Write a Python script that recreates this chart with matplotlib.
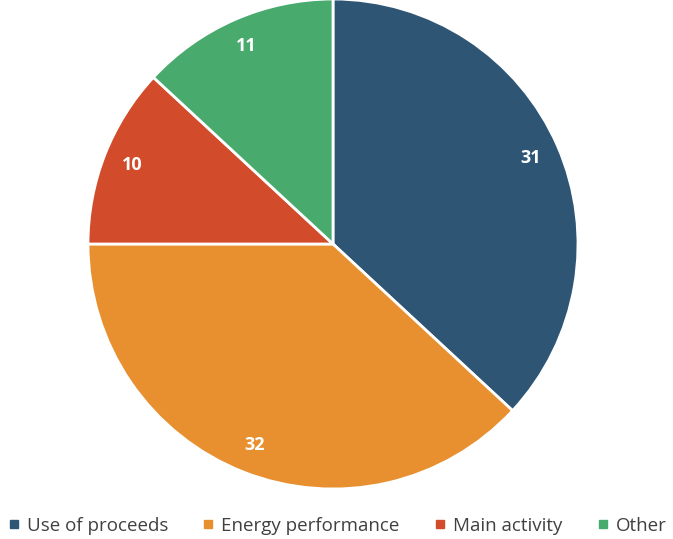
import matplotlib.pyplot as plt
from matplotlib.lines import Line2D

plt.rcParams['font.family'] = ['Open Sans', 'DejaVu Sans']

labels = ['Use of proceeds', 'Energy performance', 'Main activity', 'Other']
values = [31, 32, 10, 11]
colors = ['#2E5573', '#E88F2F', '#D24B2A', '#49AA6E']

fig = plt.figure(figsize=(6.73, 5.39), dpi=100)
ax = fig.add_axes([(333 - 245) / 673, (539 - 489) / 539, 490 / 673, 490 / 539])

wedges, texts, autotexts = ax.pie(
    values, colors=colors, startangle=90, counterclock=False,
    autopct=lambda p: '%d' % round(p * sum(values) / 100.0),
    pctdistance=0.88, radius=1,
    wedgeprops=dict(edgecolor='white', linewidth=2))
for t in autotexts:
    t.set_color('white')
    t.set_fontweight('bold')
    t.set_fontsize(13)
ax.set_xlim(-1.0, 1.0)
ax.set_ylim(-1.0, 1.0)
ax.set_aspect('equal')

handles = [Line2D([], [], marker='s', linestyle='none', color=c, markersize=6) for c in colors]
fig.legend(handles, labels, loc='center', bbox_to_anchor=(0.5, 13 / 539), ncol=4,
           frameon=False, fontsize=13.5, handletextpad=0.3, columnspacing=1.75,
           labelcolor='#404040', handlelength=0.8)

fig.savefig('out.png', dpi=100)
